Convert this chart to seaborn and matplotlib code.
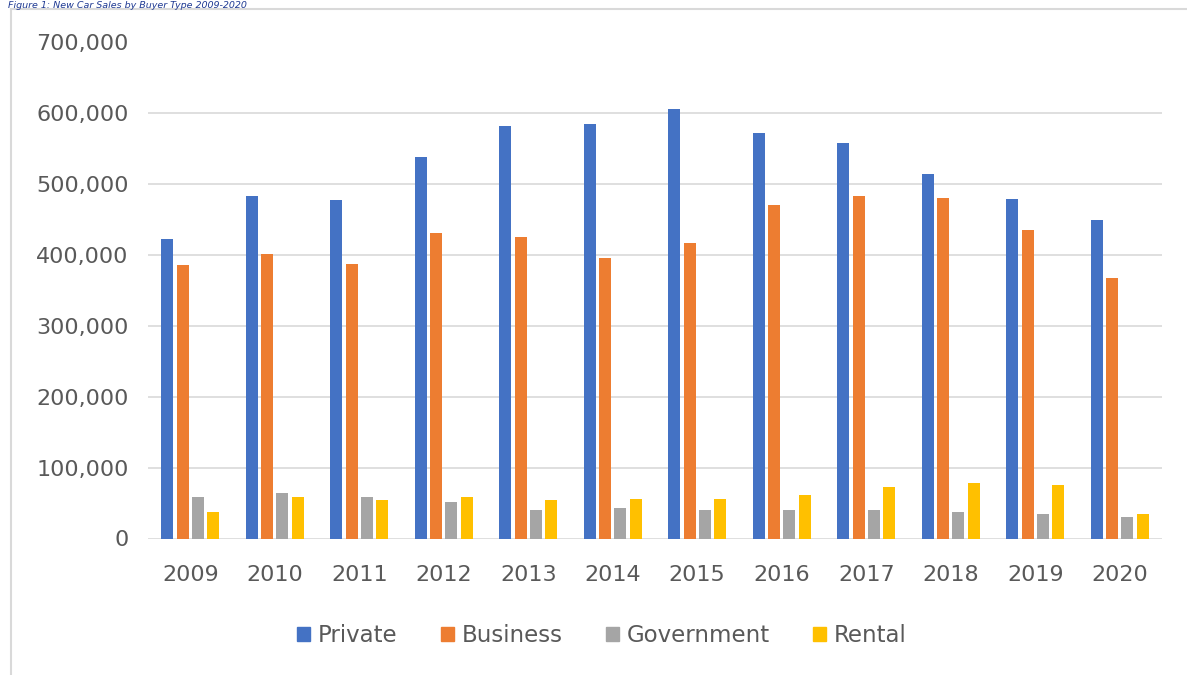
import matplotlib
matplotlib.use("Agg")
import matplotlib.pyplot as plt
import matplotlib.patches as mpatches
from matplotlib.ticker import FuncFormatter
import seaborn as sns
import pandas as pd

years = ["2009", "2010", "2011", "2012", "2013", "2014", "2015", "2016", "2017", "2018", "2019", "2020"]
private = [423000, 483000, 478000, 539000, 582000, 585000, 606000, 572000, 558000, 515000, 479000, 450000]
business = [386000, 402000, 388000, 431000, 425000, 396000, 417000, 471000, 484000, 481000, 436000, 368000]
government = [59000, 64000, 59000, 51000, 40000, 43000, 40000, 40000, 40000, 38000, 35000, 30000]
rental = [38000, 59000, 54000, 59000, 54000, 56000, 56000, 62000, 72000, 78000, 75000, 35000]
series_names = ["Private", "Business", "Government", "Rental"]
colors = ["#4472C4", "#ED7D31", "#A5A5A5", "#FFC000"]

df = pd.DataFrame({"Year": years, "Private": private, "Business": business,
                   "Government": government, "Rental": rental})
long = df.melt(id_vars="Year", var_name="Type", value_name="Sales")

sns.set_theme(style="white")
plt.rcParams["font.family"] = ["DejaVu Sans"]

fig = plt.figure(figsize=(11.87, 6.75), dpi=100)
ax = fig.add_axes([148 / 1187, 1 - 538.5 / 675, (1162 - 148) / 1187, (538.5 - 42.5) / 675])

sns.barplot(data=long, x="Year", y="Sales", hue="Type", hue_order=series_names,
            palette=colors, width=0.73, gap=0.22, ax=ax, legend=False,
            saturation=1, edgecolor="none", linewidth=0)

ax.set_ylim(0, 700000)
ax.set_yticks(range(0, 700001, 100000))
ax.yaxis.set_major_formatter(FuncFormatter(lambda v, p: f"{int(v):,}"))
ax.grid(axis="y", color="#D9D9D9", linewidth=1.2)
ax.set_axisbelow(True)
for s in ax.spines.values():
    s.set_visible(False)
ax.set_xlabel("")
ax.set_ylabel("")
ax.tick_params(axis="both", length=0, labelsize=16, labelcolor="#595959")
ax.tick_params(axis="y", pad=14)
ax.tick_params(axis="x", pad=19)

handles = [mpatches.Patch(color=c, label=n) for c, n in zip(colors, series_names)]
fig.legend(handles=handles, loc="center", bbox_to_anchor=(602 / 1187, 1 - 636 / 675),
           ncol=4, frameon=False, fontsize=16.5, labelcolor="#595959",
           handlelength=0.55, handleheight=0.55, handletextpad=0.35, columnspacing=1.9)

# chart border
fig.add_artist(plt.Line2D([11 / 1187, 11 / 1187], [0, 1 - 9 / 675], color="#D9D9D9", linewidth=1.5))
fig.add_artist(plt.Line2D([11 / 1187, 1], [1 - 9 / 675, 1 - 9 / 675], color="#D9D9D9", linewidth=1.5))

# caption strip above the chart frame
fig.text(8 / 1187, 1 - 0.5 / 675, "Figure 1: New Car Sales by Buyer Type 2009-2020",
         color="#1F3A93", fontsize=6.8, style="italic", va="top", ha="left")

fig.savefig("out.png", dpi=100)
